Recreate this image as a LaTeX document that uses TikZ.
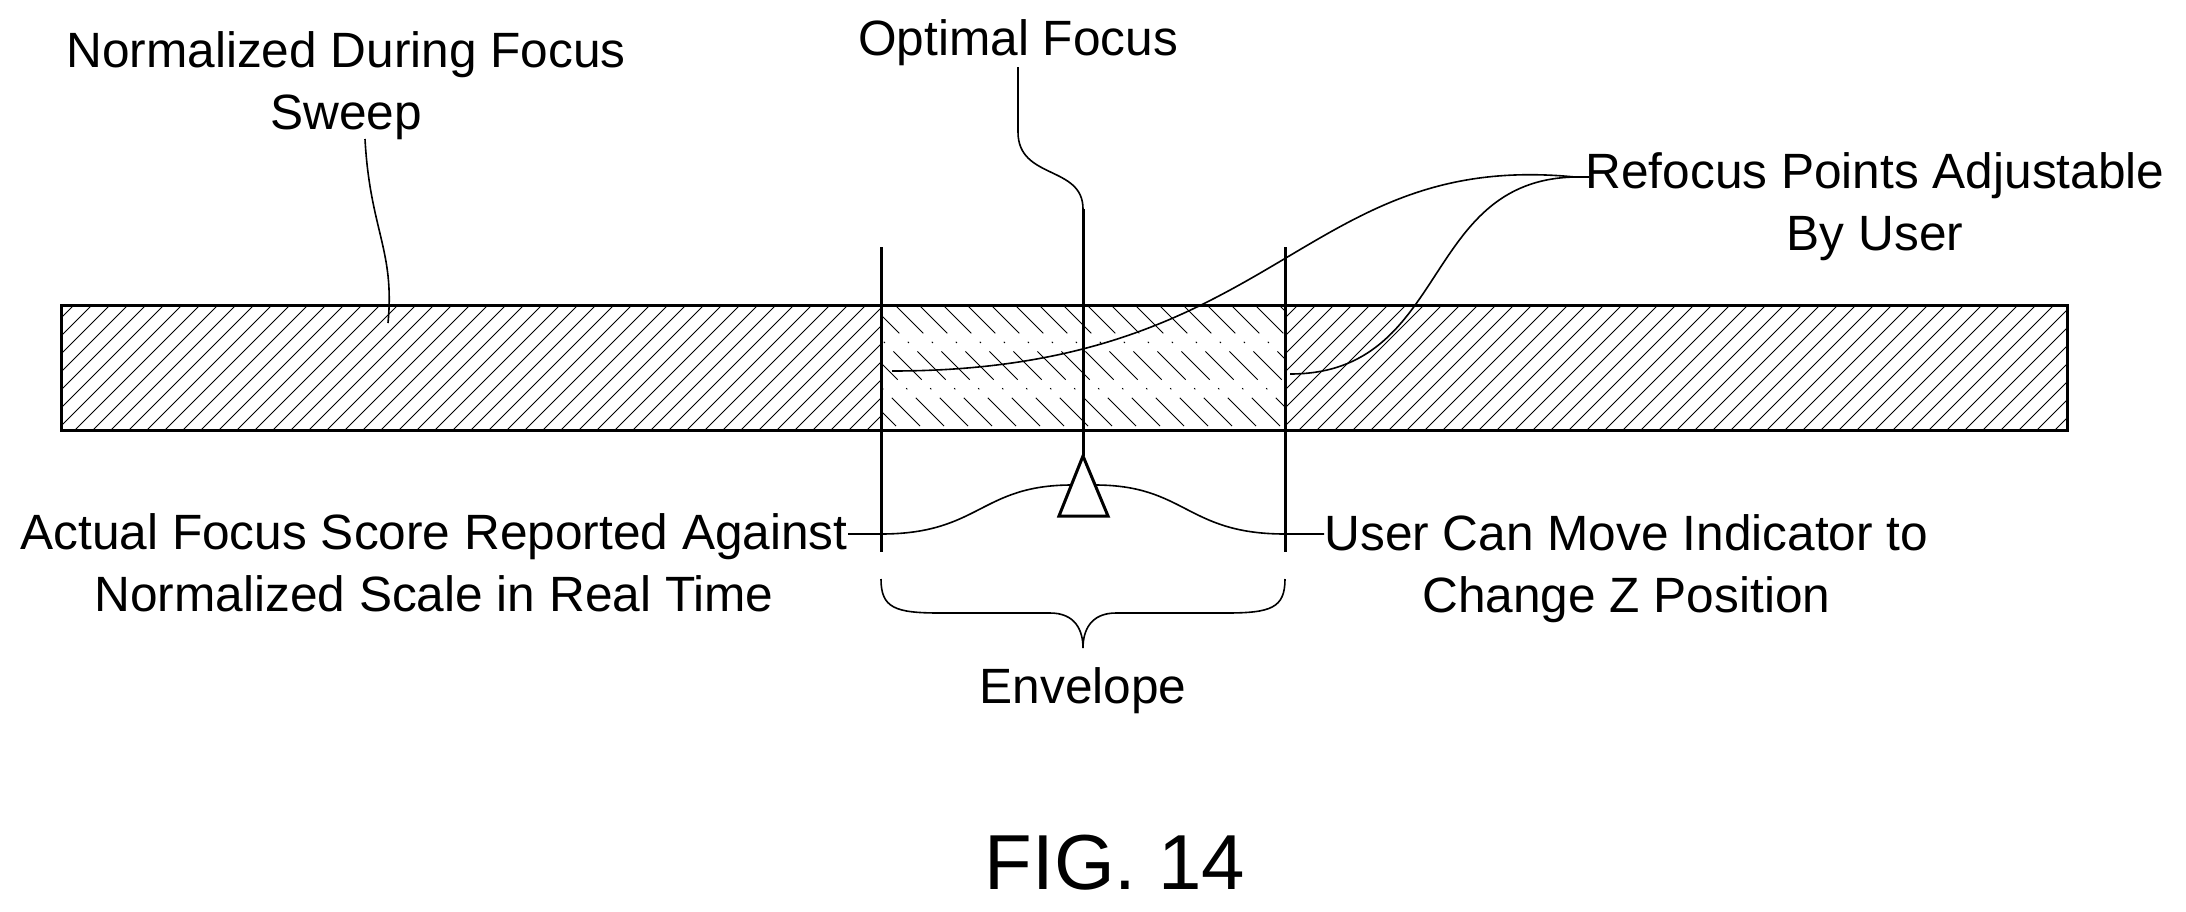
\documentclass[tikz,border=0pt]{standalone}
\usepackage{fontspec}
\setmainfont{Liberation Sans}
\usetikzlibrary{positioning}
\tikzset{
  lbl/.style={font=\fontsize{24.8}{31}\selectfont, align=center, inner sep=1pt},
  lead/.style={line width=0.8pt},
  edge/.style={line width=1.5pt},
}
\begin{document}
\begin{tikzpicture}[x=0.5pt,y=-0.5pt]
    \useasboundingbox (0,0) rectangle (2186,911);
    % hatching of the bar
    \begin{scope}
        \clip (61,305) rectangle (881,430);
        \foreach \i in {0,...,70} \draw[line width=0.5pt] (61+\i*18-130,430) -- ++(125,-125);
    \end{scope}
    \begin{scope}
        \clip (1285,305) rectangle (2067,430);
        \foreach \i in {0,...,70} \draw[line width=0.5pt] (1285+\i*18-130,430) -- ++(125,-125);
    \end{scope}
    \begin{scope}
        \clip (881,305) rectangle (1285,430);
        \foreach \i in {0,...,30} \draw[line width=0.5pt, dash pattern=on 20pt off 6pt on 0.8pt off 6pt] (881+\i*24-130,305) -- ++(125,125);
    \end{scope}
    \draw[edge] (61,305) rectangle (2067,430);
    % vertical markers
    \coordinate (lt) at (881,247);
    \coordinate (lb) at (881,552);
    \coordinate (rt) at (1285,247);
    \coordinate (rb) at (1285,552);
    \draw[edge] (lt) -- (lb);
    \draw[edge] (rt) -- (rb);
    % indicator
    \coordinate (apex) at (1083,456);
    \coordinate (bl) at (1059,516);
    \coordinate (br) at (1108,516);
    \draw[edge] (apex) -- (bl) -- (br) -- cycle;
    \draw[edge] (1083,209) -- (apex);
    % labels
    \node[lbl] (norm) at (346,86) {Normalized During Focus\\Sweep};
    \node[lbl] (opt) at (1018,43) {Optimal Focus};
    \node[lbl] (refoc) at (1875,207) {Refocus Points Adjustable\\By User};
    \node[lbl, anchor=east] (actual) at (850,563) {Actual Focus Score Reported Against\\Normalized Scale in Real Time};
    \node[lbl, anchor=west] (user) at (1322,569) {User Can Move Indicator to\\Change Z Position};
    \node[lbl] (env) at (1083,691) {Envelope};
    \node[font=\fontsize{39}{45}\selectfont] (fig) at (1115,863) {FIG. 14};
    % leaders
    \draw[lead] (365,139) .. controls (370,230) and (395,250) .. (388,323);
    \draw[lead] (1018,67) -- (1018,132) .. controls (1018,180) and (1083,165) .. (1083,209);
    \draw[lead] (1589,177) -- (1575,177) .. controls (1300,150) and (1280,371) .. (892,371);
    \draw[lead] (1575,177) .. controls (1420,180) and (1450,374) .. (1290,374);
    \draw[lead] (848,534) -- (881,534) .. controls (980,534) and (980,485) .. (1072,485);
    \draw[lead] (1095,485) .. controls (1186,485) and (1186,534) .. (1285,534) -- (1324,534);
    % envelope brace
    \draw[lead] (881,579) .. controls (881,608) and (895,613) .. (940,613) -- (1050,613)
        .. controls (1075,613) and (1083,630) .. (1083,648)
        .. controls (1083,630) and (1091,613) .. (1116,613) -- (1226,613)
        .. controls (1271,613) and (1285,608) .. (1285,579);
\end{tikzpicture}
\end{document}
